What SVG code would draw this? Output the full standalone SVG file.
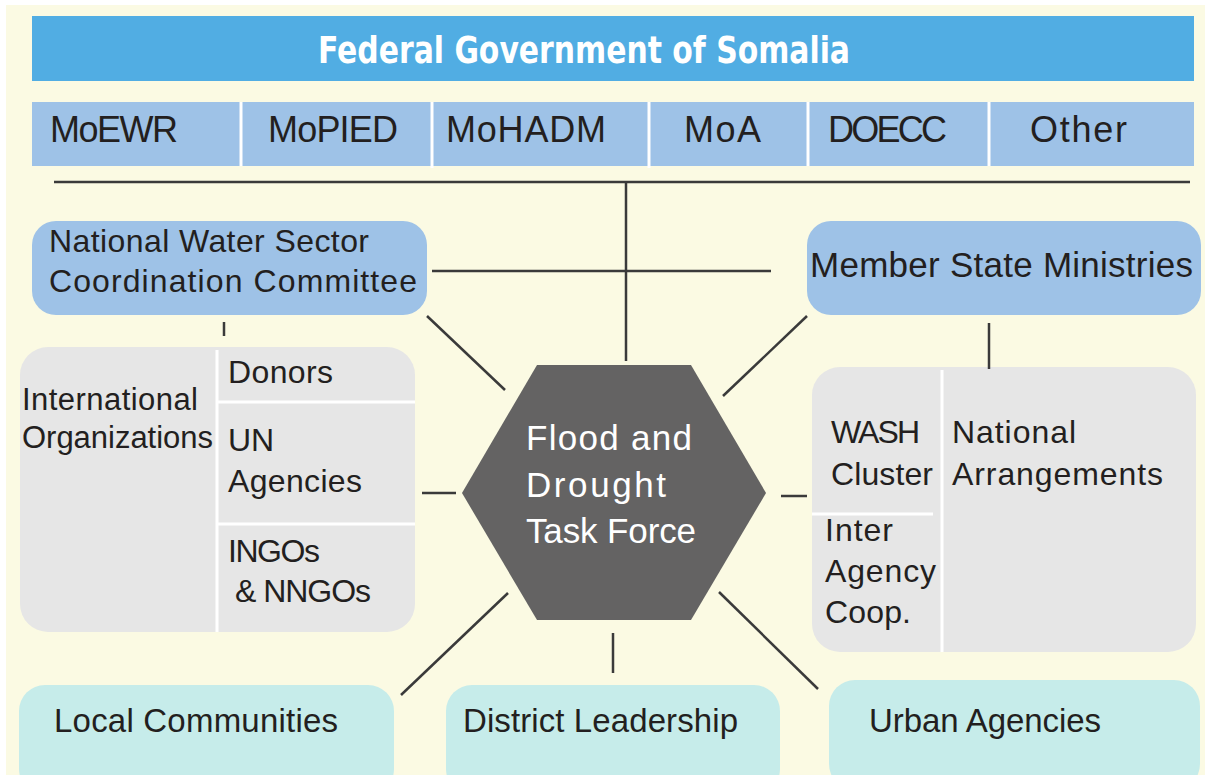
<svg xmlns="http://www.w3.org/2000/svg" width="1205" height="775" viewBox="0 0 1205 775">
<defs>
<style>
.t{font-family:"Liberation Sans",Arial,sans-serif;fill:#231f20;}
.w{font-family:"Liberation Sans",Arial,sans-serif;fill:#ffffff;}
.ln{stroke:#3a3a3a;stroke-width:2.5;fill:none;stroke-linecap:butt;}
.div{stroke:#ffffff;stroke-width:3;}
.blue{fill:#9ec2e7;}
.gray{fill:#e6e6e6;}
.cyan{fill:#c6ecea;}
</style>
</defs>
<rect x="0" y="0" width="1205" height="775" fill="#ffffff"/>
<rect x="6" y="5" width="1199" height="770" fill="#fbfae3"/>

<g id="federal-government">
<rect x="32" y="16" width="1162" height="65" fill="#51ade3"/>
<text x="318" y="63" font-family="'DejaVu Sans Condensed','DejaVu Sans',sans-serif" font-weight="bold" font-size="38" fill="#ffffff" textLength="532" lengthAdjust="spacingAndGlyphs">Federal Government of Somalia</text>
</g>

<g id="ministries">
<rect x="32" y="102" width="1162" height="64" class="blue"/>
<line x1="241" y1="102" x2="241" y2="166" class="div"/>
<line x1="432" y1="102" x2="432" y2="168" class="div"/>
<line x1="649" y1="102" x2="649" y2="168" class="div"/>
<line x1="808" y1="102" x2="808" y2="166" class="div"/>
<line x1="989" y1="102" x2="989" y2="166" class="div"/>
<text class="t" font-size="36" x="50" y="142" textLength="128">MoEWR</text>
<text class="t" font-size="36" x="268" y="142" textLength="130">MoPIED</text>
<text class="t" font-size="36" x="446" y="142" textLength="160">MoHADM</text>
<text class="t" font-size="36" x="684" y="142" textLength="77">MoA</text>
<text class="t" font-size="36" x="828" y="142" textLength="119">DOECC</text>
<text class="t" font-size="36" x="1030" y="142" textLength="97">Other</text>
</g>

<g id="nwscc">
<rect x="32" y="221" width="395" height="94" rx="24" class="blue"/>
<text class="t" font-size="32" x="49" y="252" textLength="320">National Water Sector</text>
<text class="t" font-size="32" x="49" y="292" textLength="368">Coordination Committee</text>
</g>

<g id="member-state-ministries">
<rect x="807" y="221" width="394" height="94" rx="24" class="blue"/>
<text class="t" font-size="35" x="810" y="277" textLength="383">Member State Ministries</text>
</g>

<g id="international-organizations">
<rect x="20" y="347" width="395" height="285" rx="28" class="gray"/>
<line x1="217" y1="350" x2="217" y2="632" class="div"/>
<line x1="217" y1="402" x2="415" y2="402" class="div"/>
<line x1="217" y1="524" x2="415" y2="524" class="div"/>
<text class="t" font-size="31" x="22" y="410" textLength="176">International</text>
<text class="t" font-size="31" x="22" y="448" textLength="191">Organizations</text>
<text class="t" font-size="32" x="228" y="383" textLength="105">Donors</text>
<text class="t" font-size="32" x="228" y="451">UN</text>
<text class="t" font-size="32" x="228" y="492" textLength="134">Agencies</text>
<text class="t" font-size="32" x="228" y="562" textLength="92">INGOs</text>
<text class="t" font-size="32" x="235" y="602" textLength="136">&amp; NNGOs</text>
</g>

<g id="national-arrangements">
<rect x="812" y="367" width="384" height="285" rx="28" class="gray"/>
<line x1="942" y1="370" x2="942" y2="652" class="div"/>
<line x1="812" y1="514" x2="933" y2="514" class="div"/>
<text class="t" font-size="32" x="831" y="443" textLength="89">WASH</text>
<text class="t" font-size="32" x="831" y="485" textLength="102">Cluster</text>
<text class="t" font-size="32" x="825" y="541" textLength="68">Inter</text>
<text class="t" font-size="32" x="825" y="582" textLength="111">Agency</text>
<text class="t" font-size="32" x="825" y="623" textLength="86">Coop.</text>
<text class="t" font-size="32" x="952" y="443" textLength="124">National</text>
<text class="t" font-size="32" x="952" y="485" textLength="211">Arrangements</text>
</g>

<g id="task-force">
<polygon points="537,365 691,365 766,493 691,620 537,620 462,493" fill="#646363"/>
<text class="w" font-size="35" x="526" y="450" textLength="166">Flood and</text>
<text class="w" font-size="35" x="526" y="497" textLength="140">Drought</text>
<text class="w" font-size="35" x="526" y="543" textLength="170">Task Force</text>
</g>

<g id="local-communities">
<rect x="19" y="685" width="375" height="110" rx="26" class="cyan"/>
<text class="t" font-size="33" x="54" y="732" textLength="284">Local Communities</text>
</g>

<g id="district-leadership">
<rect x="446" y="685" width="334" height="110" rx="26" class="cyan"/>
<text class="t" font-size="33" x="463" y="732" textLength="275">District Leadership</text>
</g>

<g id="urban-agencies">
<rect x="829" y="680" width="371" height="110" rx="26" class="cyan"/>
<text class="t" font-size="33" x="869" y="732" textLength="232">Urban Agencies</text>
</g>

<g id="connectors">
<line x1="54" y1="182" x2="1190" y2="182" class="ln" stroke-width="3"/>
<line x1="626" y1="182" x2="626" y2="361" class="ln"/>
<line x1="432" y1="271" x2="771" y2="271" class="ln"/>
<line x1="224" y1="322" x2="224" y2="336" class="ln"/>
<line x1="989" y1="323" x2="989" y2="369" class="ln"/>
<line x1="427" y1="316" x2="505" y2="390" class="ln"/>
<line x1="807" y1="316" x2="723" y2="396" class="ln"/>
<line x1="422" y1="493" x2="456" y2="493" class="ln"/>
<line x1="781" y1="496" x2="807" y2="496" class="ln"/>
<line x1="508" y1="593" x2="401" y2="695" class="ln"/>
<line x1="613" y1="633" x2="613" y2="673" class="ln"/>
<line x1="719" y1="592" x2="818" y2="689" class="ln"/>
</g>
</svg>
